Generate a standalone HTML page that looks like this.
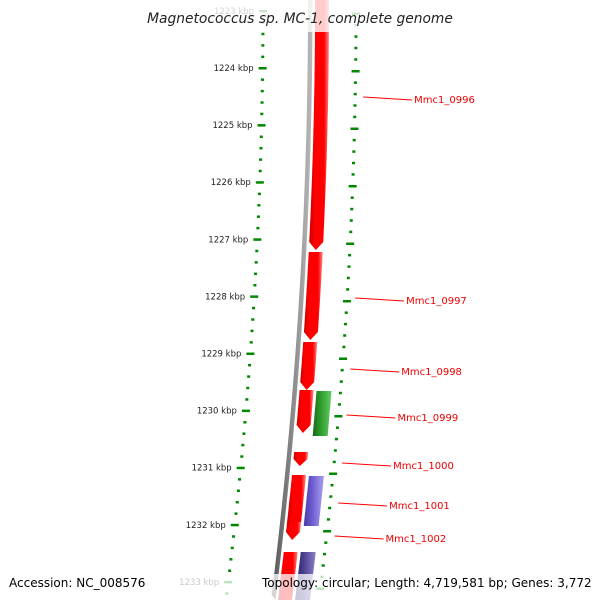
<!DOCTYPE html>
<html><head><meta charset="utf-8"><style>
html,body{margin:0;padding:0;background:#fff;overflow:hidden;width:600px;height:600px;}
svg{display:block;font-family:"DejaVu Sans","Liberation Sans",sans-serif;}
</style></head><body>
<svg id="map" width="600" height="600" viewBox="0 0 600 600">
<defs>
<linearGradient id="gRed" x1="0" x2="1" y1="0" y2="0"><stop offset="0" stop-color="#c00"/><stop offset="0.3" stop-color="#f00"/><stop offset="0.75" stop-color="#f00"/><stop offset="1" stop-color="#f88"/></linearGradient>
<linearGradient id="gGreen" x1="0" x2="1"><stop offset="0" stop-color="#186818"/><stop offset="0.4" stop-color="#2a9a2a"/><stop offset="1" stop-color="#6c6"/></linearGradient>
<linearGradient id="gBlue" x1="0" x2="1"><stop offset="0" stop-color="#4a3aa8"/><stop offset="0.4" stop-color="#6a5acd"/><stop offset="1" stop-color="#a99ef0"/></linearGradient>
<linearGradient id="gNavy" x1="0" x2="1"><stop offset="0" stop-color="#2a2070"/><stop offset="0.4" stop-color="#483d8b"/><stop offset="1" stop-color="#8a80c8"/></linearGradient>
<linearGradient id="gGray" x1="0" x2="1"><stop offset="0" stop-color="#555"/><stop offset="0.5" stop-color="#888"/><stop offset="1" stop-color="#bbb"/></linearGradient>
</defs>
<g id="layer"></g>
<rect x="0" y="0" width="600" height="32" fill="#fff" fill-opacity="0.8"/>
<text x="300" y="23" text-anchor="middle" font-size="13.8" font-style="italic" fill="#222">Magnetococcus sp. MC-1, complete genome</text>
<rect x="0" y="574" width="600" height="26" fill="#fff" fill-opacity="0.75"/>
<text x="9" y="587" font-size="12" fill="#000">Accession: NC_008576</text>
<text x="262" y="587" font-size="12" fill="#000">Topology: circular; Length: 4,719,581 bp; Genes: 3,772</text>
</svg>
<script>
// data
const tickKbp = [1223,1224,1225,1226,1227,1228,1229,1230,1231,1232,1233];
const featStart = [-20, 252, 342, 390, 452, 475, 522, 552, 391, 476, 552];
const featEnd   = [250, 340, 390, 433, 466, 522, 540, 620, 436, 526, 620];
const featStrand= ['f','f','f','f','f','f','f','f','g','b','n'];
const featArrow = [true,true,true,true,true,false,true,false,false,false,false];
const geneNames = ['Mmc1_0996','Mmc1_0997','Mmc1_0998','Mmc1_0999','Mmc1_1000','Mmc1_1001','Mmc1_1002'];
const geneLabelY = [97, 298, 369, 415, 463, 503, 536];

const NS='http://www.w3.org/2000/svg';
const L=document.getElementById('layer');
function bx(y){return 310+0.00167*y-1.056e-4*y*y;}
function kY(k){return 68+(k-1224)*57.1;}
function mk(t,a){const e=document.createElementNS(NS,t);for(const k in a)e.setAttribute(k,a[k]);L.appendChild(e);return e;}

// backbone
let pts=[];for(let y=-5;y<=600;y+=10)pts.push([bx(y)-2,y]);for(let y=600;y>=-5;y-=10)pts.push([bx(y)+2.5,y]);
let bb=mk('polygon',{points:pts.map(p=>p.join(',')).join(' '),fill:'url(#gGray)'});



// ticks
for(let i=0;i<tickKbp.length;i++){
  const k=tickKbp[i];
  for(let m=0;m<5;m++){
    const y=kY(k)+m*11.42;
    if(y>598)continue;
    const yr=y+3+(k-1224)*0.4;
    const maj=m===0;
    const t1=mk('rect',{x:bx(y)-47-(maj?4:1.5),y:y-1,width:maj?8:3,height:2.5,fill:'#080'});
    
    
    if(yr<598){
    const t2=mk('rect',{x:bx(yr)+46-(maj?4:1.5),y:yr-1,width:maj?8:3,height:2.5,fill:'#080'});
    
    
    }
  }
  const y=kY(k);
  const tx=mk('text',{x:bx(y)-56,y:y+3,'text-anchor':'end','font-size':'8.5',fill:'#222'});
  tx.textContent=k+' kbp';
  
  
}

// features
const fillFor={f:'url(#gRed)',g:'url(#gGreen)',b:'url(#gBlue)',n:'url(#gNavy)'};
for(let i=0;i<featStart.length;i++){
  const s=featStart[i],e=Math.min(featEnd[i],600),st=featStrand[i];
  const o0=st==='f'?5:22, o1=st==='f'?19:37;
  const tip=featArrow[i]?Math.min(8,(e-s)/2):0;
  const p=[];
  for(let y=s;y<=e-tip;y+=5)p.push([bx(y)+o0,y]);
  p.push([bx(e-tip)+o0,e-tip]);
  if(tip){p.push([bx(e)+(o0+o1)/2,e]);}
  p.push([bx(e-tip)+o1,e-tip]);
  for(let y=e-tip;y>=s;y-=5)p.push([bx(y)+o1,y]);
  p.push([bx(s)+o1,s]);
  const f=mk('polygon',{points:p.map(q=>q[0].toFixed(1)+','+q[1].toFixed(1)).join(' '),fill:fillFor[st]});
  
  
}

// labels
for(let i=0;i<geneNames.length;i++){
  const y=geneLabelY[i];
  const x0=bx(y)+54;
  const ln=mk('line',{x1:x0,y1:y,x2:x0+49,y2:y+3,stroke:'#f00','stroke-width':1});
  
  
  const t=mk('text',{x:x0+51,y:y+6,'font-size':'10',fill:'#e00'});
  t.textContent=geneNames[i];
  
  
}
</script>
</body></html>
